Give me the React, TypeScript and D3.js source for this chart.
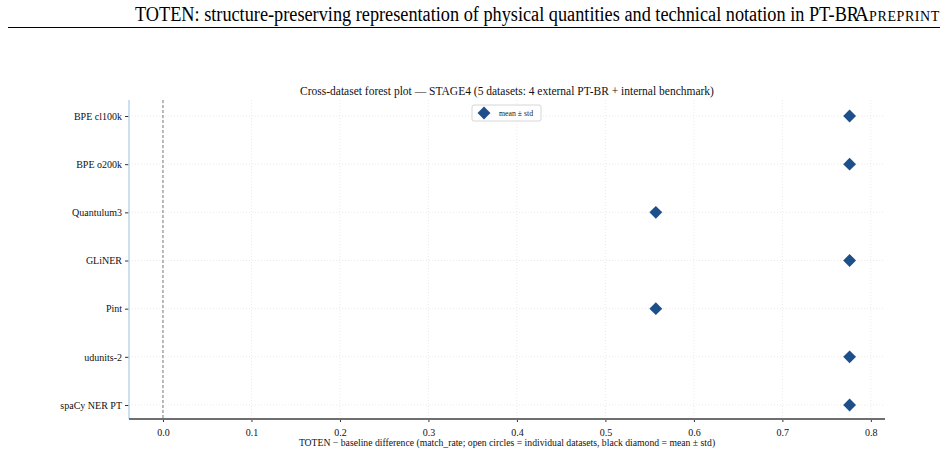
import React, { useEffect, useRef } from "react";
import * as d3 from "d3";

const categories = [
  "BPE cl100k",
  "BPE o200k",
  "Quantulum3",
  "GLiNER",
  "Pint",
  "udunits-2",
  "spaCy NER PT",
];
const meanValues = [0.776, 0.776, 0.557, 0.776, 0.557, 0.776, 0.776];
const xTicks = [0.0, 0.1, 0.2, 0.3, 0.4, 0.5, 0.6, 0.7, 0.8];

const headerText =
  "TOTEN: structure-preserving representation of physical quantities and technical notation in PT-BR";
const chartTitle =
  "Cross-dataset forest plot \u2014 STAGE4 (5 datasets: 4 external PT-BR + internal benchmark)";
const xLabel =
  "TOTEN \u2212 baseline difference (match_rate; open circles = individual datasets, black diamond = mean \u00b1 std)";

const W = 948;
const H = 455;
const margin = { top: 100, right: 63, bottom: 36, left: 129 };
const FONT = "'Liberation Serif', 'DejaVu Serif', serif";
const BLUE = "#1d4f8b";

const App = () => {
  const svgRef = useRef<SVGSVGElement>(null);

  useEffect(() => {
    const svg = d3.select(svgRef.current);
    svg.selectAll("*").remove();

    // page header
    svg
      .append("text")
      .attr("x", 135)
      .attr("y", 21)
      .attr("font-family", FONT)
      .attr("font-size", 20)
      .attr("textLength", 724)
      .attr("lengthAdjust", "spacingAndGlyphs")
      .text(headerText);

    const pre = svg
      .append("text")
      .attr("x", 940)
      .attr("y", 21)
      .attr("text-anchor", "end")
      .attr("font-family", FONT)
      .attr("font-size", 20);
    pre.append("tspan").text("A");
    pre.append("tspan").attr("font-size", 14).attr("letter-spacing", 0.6).text("PREPRINT");

    svg
      .append("line")
      .attr("x1", 8)
      .attr("x2", 940)
      .attr("y1", 27.5)
      .attr("y2", 27.5)
      .attr("stroke", "#000")
      .attr("stroke-width", 1);

    const x = d3
      .scaleLinear()
      .domain([-0.0384, 0.816])
      .range([margin.left, W - margin.right]);

    const y = d3
      .scalePoint()
      .domain(categories)
      .range([116, 405]);

    const plotTop = margin.top;
    const plotBottom = H - margin.bottom;

    // grid
    svg
      .append("g")
      .selectAll("line")
      .data(xTicks)
      .enter()
      .append("line")
      .attr("x1", (d) => x(d))
      .attr("x2", (d) => x(d))
      .attr("y1", plotTop)
      .attr("y2", plotBottom)
      .attr("stroke", "#e4e4e4")
      .attr("stroke-width", 0.8)
      .attr("stroke-dasharray", "1,2");

    svg
      .append("g")
      .selectAll("line")
      .data(categories)
      .enter()
      .append("line")
      .attr("x1", margin.left)
      .attr("x2", W - margin.right)
      .attr("y1", (d) => y(d))
      .attr("y2", (d) => y(d))
      .attr("stroke", "#e4e4e4")
      .attr("stroke-width", 0.8)
      .attr("stroke-dasharray", "1,2");

    // zero reference
    svg
      .append("line")
      .attr("x1", x(0))
      .attr("x2", x(0))
      .attr("y1", plotTop)
      .attr("y2", plotBottom)
      .attr("stroke", "#555")
      .attr("stroke-width", 0.8)
      .attr("stroke-dasharray", "3,2");

    // axes
    const xAxis = svg
      .append("g")
      .attr("transform", `translate(0,${plotBottom})`)
      .call(
        d3
          .axisBottom(x)
          .tickValues(xTicks)
          .tickSize(3)
          .tickFormat((d) => d3.format(".1f")(d as number))
      );
    xAxis.select(".domain").remove();
    xAxis.selectAll("line").attr("stroke", "#333");
    xAxis
      .selectAll("text")
      .attr("font-family", FONT)
      .attr("font-size", 10)
      .attr("fill", "#111")
      .attr("dy", "1.1em");

    const yAxis = svg
      .append("g")
      .attr("transform", `translate(${margin.left},0)`)
      .call(d3.axisLeft(y).tickSize(4).tickPadding(3));
    yAxis.select(".domain").remove();
    yAxis.selectAll("line").attr("stroke", "#333");
    yAxis
      .selectAll("text")
      .attr("font-family", FONT)
      .attr("font-size", 10)
      .attr("fill", "#111");

    // spines
    svg
      .append("line")
      .attr("x1", margin.left)
      .attr("x2", margin.left)
      .attr("y1", plotTop)
      .attr("y2", plotBottom)
      .attr("stroke", "#bcd6ee")
      .attr("stroke-width", 1.5);
    svg
      .append("line")
      .attr("x1", margin.left)
      .attr("x2", W - margin.right)
      .attr("y1", plotBottom)
      .attr("y2", plotBottom)
      .attr("stroke", "#6f6f6f")
      .attr("stroke-width", 1.8);

    // mean diamonds
    const diamond = d3.symbol().type(d3.symbolDiamond2).size(105);
    svg
      .append("g")
      .selectAll("path")
      .data(categories.map((c, i) => ({ c, v: meanValues[i] })))
      .enter()
      .append("path")
      .attr("d", diamond)
      .attr("transform", (d) => `translate(${x(d.v)},${y(d.c)})`)
      .attr("fill", BLUE);

    // legend
    const lg = svg.append("g").attr("transform", "translate(472,105)");
    lg.append("rect")
      .attr("width", 69)
      .attr("height", 16)
      .attr("rx", 2)
      .attr("fill", "#fff")
      .attr("stroke", "#ccc")
      .attr("stroke-width", 0.8);
    lg.append("path")
      .attr("d", diamond)
      .attr("transform", "translate(12,8)")
      .attr("fill", BLUE);
    lg.append("text")
      .attr("x", 27)
      .attr("y", 10.5)
      .attr("font-family", FONT)
      .attr("font-size", 7.8)
      .attr("fill", "#222")
      .text("mean \u00b1 std");

    // title & label
    svg
      .append("text")
      .attr("x", 507)
      .attr("y", 95)
      .attr("text-anchor", "middle")
      .attr("font-family", FONT)
      .attr("font-size", 11.5)
      .attr("fill", "#111")
      .text(chartTitle);

    svg
      .append("text")
      .attr("x", 507)
      .attr("y", 446)
      .attr("text-anchor", "middle")
      .attr("font-family", FONT)
      .attr("font-size", 9.7)
      .attr("fill", "#111")
      .text(xLabel);
  }, []);

  return (
    <div style={{ position: "fixed", left: 0, top: 0, background: "#fff" }}>
      <svg ref={svgRef} width={W} height={H} style={{ display: "block" }}></svg>
    </div>
  );
};

export default App;
